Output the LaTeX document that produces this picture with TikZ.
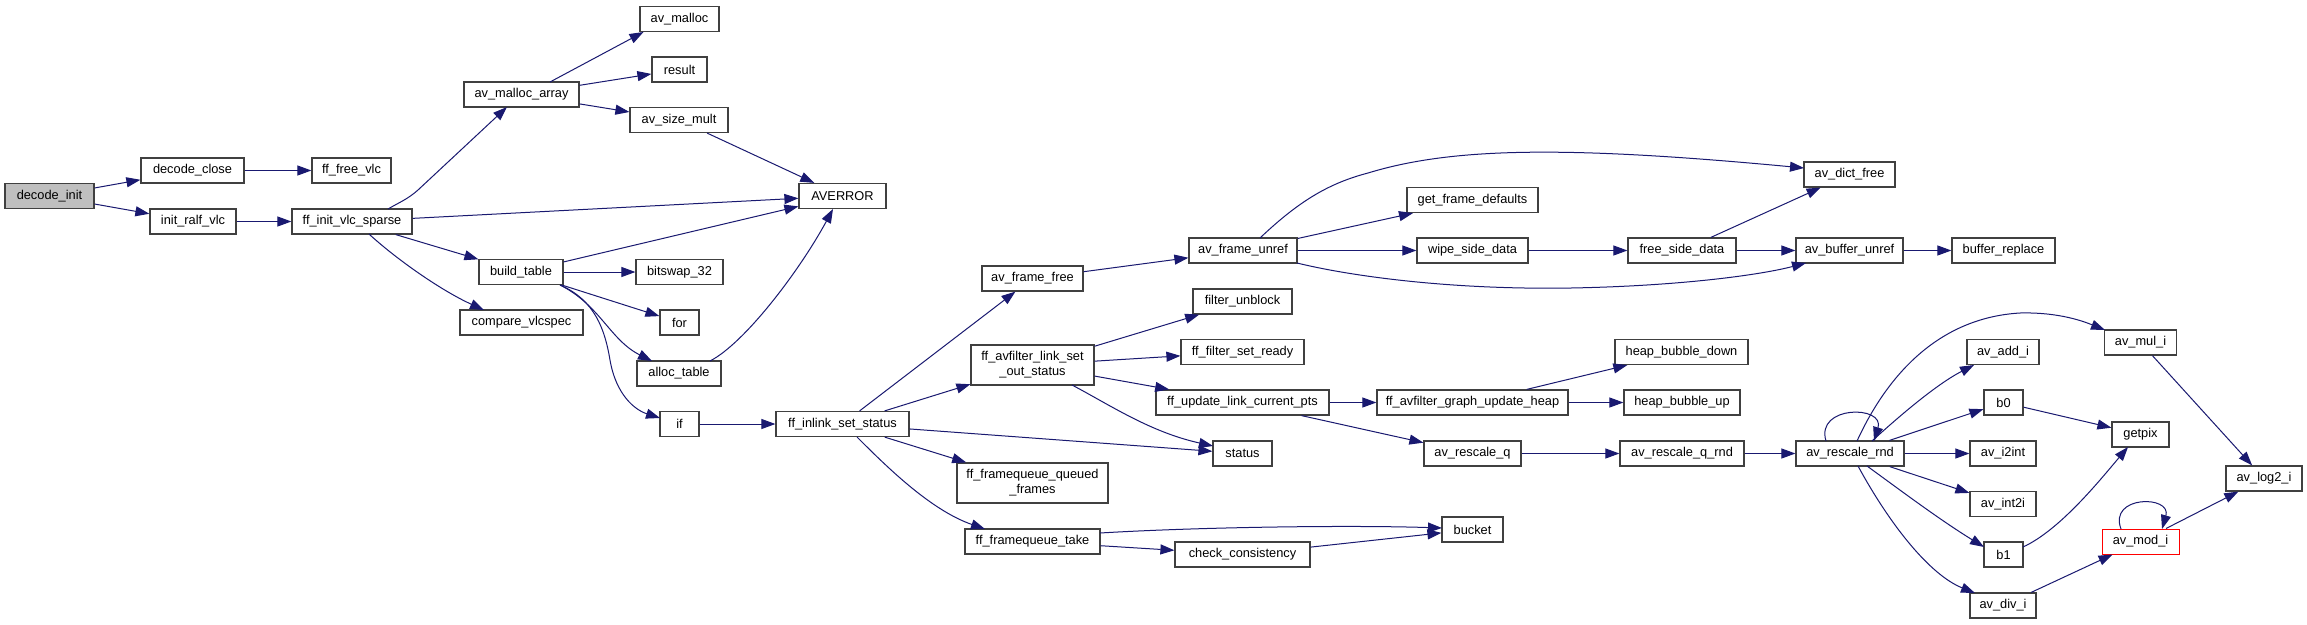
\documentclass[tikz,border=0pt]{standalone}
\usepackage{fontspec}
\setmainfont{Liberation Sans}
\usetikzlibrary{arrows.meta,calc}
\definecolor{edgeblue}{HTML}{191970}
\definecolor{nodeborder}{HTML}{404040}
\definecolor{rootfill}{HTML}{BFBFBF}
\begin{document}
\begin{tikzpicture}[x=1pt,y=-1pt,
 box/.style={draw=nodeborder, line width=1.2pt, fill=white, minimum height=25pt, inner sep=0pt,
   font=\fontsize{12.8}{15}\selectfont, align=center},
 e/.style={draw=edgeblue, line width=1pt, -{Triangle[length=14pt,width=10pt]}}]
\fill[white] (0,0) rectangle (2307,624);
\useasboundingbox (0,0) rectangle (2307,624);

\node[box,fill=rootfill,minimum width=89pt] (di) at (49.5,196) {decode\_init};
\node[box,minimum width=103pt] (dc) at (192.5,170.5) {decode\_close};
\node[box,minimum width=79pt] (ffv) at (351.5,170.5) {ff\_free\_vlc};
\node[box,minimum width=86pt] (irv) at (193,221.5) {init\_ralf\_vlc};
\node[box,minimum width=120pt] (fivs) at (352,221.5) {ff\_init\_vlc\_sparse};
\node[box,minimum width=79pt] (avm) at (679.5,19) {av\_malloc};
\node[box,minimum width=55pt] (res) at (679.5,69.5) {result};
\node[box,minimum width=115pt] (mam) at (521.5,94.5) {av\_malloc\_array};
\node[box,minimum width=98pt] (asm) at (679,120) {av\_size\_mult};
\node[box,minimum width=87pt] (averr) at (842.5,196) {AVERROR};
\node[box,minimum width=84pt] (bt) at (521,272) {build\_table};
\node[box,minimum width=87pt] (bs) at (679.5,272) {bitswap\_32};
\node[box,minimum width=123pt] (cvs) at (521.5,322.5) {compare\_vlcspec};
\node[box,minimum width=39pt] (nfor) at (679.5,322.5) {for};
\node[box,minimum width=84pt] (alt) at (679,373.5) {alloc\_table};
\node[box,minimum width=39pt] (nif) at (679.5,424) {if};
\node[box,minimum width=133pt] (iss) at (842.5,424) {ff\_inlink\_set\_status};
\node[box,minimum width=101pt] (aff) at (1032.5,278.5) {av\_frame\_free};
\node[box,minimum width=123pt,minimum height=40pt] (los) at (1032.5,365) {ff\_avfilter\_link\_set\\\_out\_status};
\node[box,minimum width=151pt,minimum height=40pt] (fqq) at (1032.5,483) {ff\_framequeue\_queued\\\_frames};
\node[box,minimum width=135pt] (fqt) at (1032.5,541.5) {ff\_framequeue\_take};
\node[box,minimum width=108pt] (afu) at (1243,250.5) {av\_frame\_unref};
\node[box,minimum width=99pt] (fub) at (1242.5,301.5) {filter\_unblock};
\node[box,minimum width=123pt] (fsr) at (1242.5,352) {ff\_filter\_set\_ready};
\node[box,minimum width=173pt] (ulc) at (1242.5,402.5) {ff\_update\_link\_current\_pts};
\node[box,minimum width=59pt] (st) at (1242.5,453.5) {status};
\node[box,minimum width=135pt] (cc) at (1242.5,554.5) {check\_consistency};
\node[box,minimum width=131pt] (gfd) at (1472.5,200) {get\_frame\_defaults};
\node[box,minimum width=111pt] (wsd) at (1472.5,250.5) {wipe\_side\_data};
\node[box,minimum width=191pt] (guh) at (1472.5,402.5) {ff\_avfilter\_graph\_update\_heap};
\node[box,minimum width=97pt] (arq) at (1472.5,453.5) {av\_rescale\_q};
\node[box,minimum width=61pt] (bk) at (1472.5,529.5) {bucket};
\node[box,minimum width=108pt] (fsd) at (1682,250.5) {free\_side\_data};
\node[box,minimum width=133pt] (hbd) at (1681.5,352) {heap\_bubble\_down};
\node[box,minimum width=116pt] (hbu) at (1682,402.5) {heap\_bubble\_up};
\node[box,minimum width=124pt] (arqr) at (1682,453.5) {av\_rescale\_q\_rnd};
\node[box,minimum width=91pt] (adf) at (1849.5,174.5) {av\_dict\_free};
\node[box,minimum width=107pt] (abu) at (1849.5,250.5) {av\_buffer\_unref};
\node[box,minimum width=108pt] (arr) at (1850,453.5) {av\_rescale\_rnd};
\node[box,minimum width=103pt] (br) at (2003.5,250.5) {buffer\_replace};
\node[box,minimum width=72pt] (add) at (2003,352) {av\_add\_i};
\node[box,minimum width=39pt] (bz) at (2003.5,402.5) {b0};
\node[box,minimum width=66pt] (i2int) at (2003,453.5) {av\_i2int};
\node[box,minimum width=66pt] (int2i) at (2003,504) {av\_int2i};
\node[box,minimum width=39pt] (bo) at (2003.5,554.5) {b1};
\node[box,minimum width=66pt] (div) at (2003,605.5) {av\_div\_i};
\node[box,minimum width=72pt] (mul) at (2140.5,342.5) {av\_mul\_i};
\node[box,minimum width=57pt] (gp) at (2140.5,434.5) {getpix};
\node[box,draw=red,line width=1pt,minimum width=77pt] (mod) at (2140.5,541.5) {av\_mod\_i};
\node[box,minimum width=76pt] (lg) at (2264,478.5) {av\_log2\_i};

\draw[e] (di) -- (dc);
\draw[e] (di) -- (irv);
\draw[e] (dc) -- (ffv);
\draw[e] (irv) -- (fivs);
\draw[e] ($(fivs)+(36,-12.5)$) .. controls (400,202) and (408,199) .. (418,190) -- ($(mam)+(-14.5,12.5)$);
\draw[e] (fivs) -- (averr);
\draw[e] (fivs) -- (bt);
\draw[e] ($(fivs)+(17,12.5)$) .. controls (395,258) and (440,290) .. ($(cvs)+(-37.5,-12.5)$);
\draw[e] ($(mam)+(28.5,-12.5)$) -- ($(avm)+(-36,13)$);
\draw[e] (mam) -- (res);
\draw[e] (mam) -- (asm);
\draw[e] (asm) -- (averr);
\draw[e] (bt) -- (averr);
\draw[e] (bt) -- (bs);
\draw[e] (bt) -- (nfor);
\draw[e] ($(bt)+(39,13)$) .. controls (600,305) and (610,340) .. ($(alt)+(-27,-12.5)$);
\draw[e] ($(bt)+(39,13)$) .. controls (595,300) and (605,330) .. (610,360) .. controls (616,395) and (635,410) .. ($(nif)+(-19.5,-6)$);
\draw[e] ($(alt)+(31,-12.5)$) .. controls (745,343) and (800,270) .. ($(averr)+(-9.5,13)$);
\draw[e] (nif) -- (iss);
\draw[e] (iss) -- (aff);
\draw[e] (iss) -- (los);
\draw[e] (iss) -- (st);
\draw[e] (iss) -- (fqq);
\draw[e] ($(iss)+(14.5,13)$) .. controls (885,465) and (930,510) .. ($(fqt)+(-47.5,-12.5)$);
\draw[e] (aff) -- (afu);
\draw[e] (los) -- (fub);
\draw[e] (los) -- (fsr);
\draw[e] (los) -- (ulc);
\draw[e] ($(los)+(39.5,20)$) .. controls (1110,405) and (1150,432) .. ($(st)+(-29.5,-7.5)$);
\draw[e] ($(fqt)+(67.5,-8.5)$) .. controls (1200,527) and (1350,525) .. ($(bk)+(-30.5,-1.5)$);
\draw[e] (fqt) -- (cc);
\draw[e] (cc) -- (bk);
\draw[e] ($(afu)+(17,-12.5)$) .. controls (1300,200) and (1330,183) .. (1368,173) .. controls (1450,148) and (1560,145) .. ($(adf)+(-45.5,-6.5)$);
\draw[e] (afu) -- (gfd);
\draw[e] (afu) -- (wsd);
\draw[e] ($(afu)+(54,12.5)$) .. controls (1350,276) and (1450,290) .. (1571,288) .. controls (1680,286) and (1760,275) .. ($(abu)+(-43.5,12.5)$);
\draw[e] (wsd) -- (fsd);
\draw[e] (fsd) -- (adf);
\draw[e] (fsd) -- (abu);
\draw[e] (abu) -- (br);
\draw[e] (ulc) -- (guh);
\draw[e] (ulc) -- (arq);
\draw[e] (guh) -- (hbd);
\draw[e] (guh) -- (hbu);
\draw[e] (arq) -- (arqr);
\draw[e] (arqr) -- (arr);
\draw[e] ($(arr)+(-24,-12.5)$) .. controls (1815,405) and (1885,405) .. ($(arr)+(24,-12.5)$);
\draw[e] ($(arr)+(7,-12.5)$) .. controls (1885,380) and (1935,318) .. (2020,313) .. controls (2060,312) and (2085,322) .. ($(mul)+(-35.5,-12.5)$);
\draw[e] ($(arr)+(22,-12.5)$) .. controls (1895,420) and (1935,385) .. ($(add)+(-29,13)$);
\draw[e] (arr) -- (bz);
\draw[e] (arr) -- (i2int);
\draw[e] (arr) -- (int2i);
\draw[e] ($(arr)+(17,12.5)$) .. controls (1900,490) and (1940,520) .. ($(bo)+(-19.5,-7.5)$);
\draw[e] ($(arr)+(8,12.5)$) .. controls (1890,525) and (1930,575) .. ($(div)+(-28,-12.5)$);
\draw[e] (bz) -- (gp);
\draw[e] ($(bo)+(19.5,-7.5)$) .. controls (2060,530) and (2100,480) .. ($(gp)+(-12.5,12.5)$);
\draw[e] (div) -- (mod);
\draw[e] ($(mod)+(-19.5,-12.5)$) .. controls (2108,495) and (2172,495) .. ($(mod)+(21.5,-12.5)$);
\draw[e] (mod) -- (lg);
\draw[e] (mul) -- (lg);
\end{tikzpicture}
\end{document}
